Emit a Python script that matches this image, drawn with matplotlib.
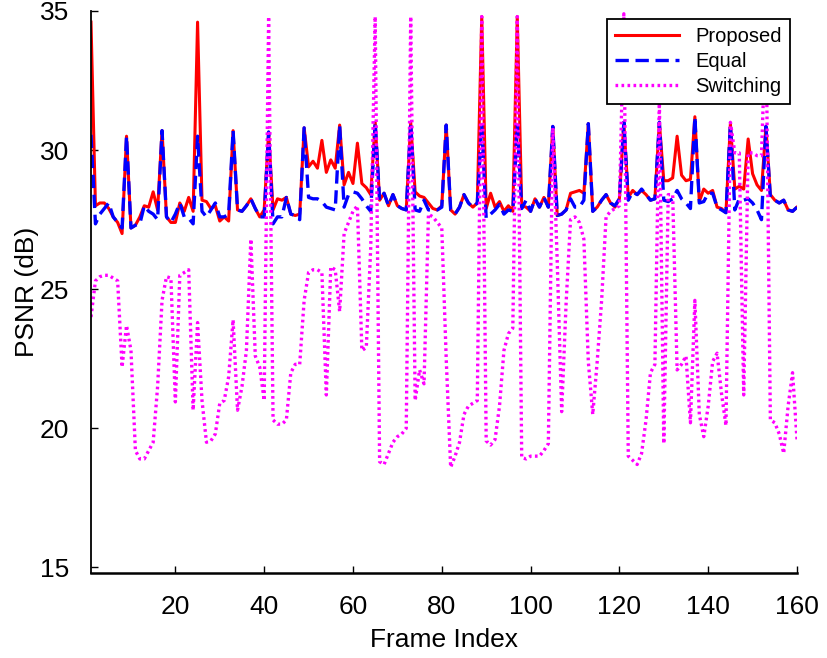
import numpy as np
import matplotlib
matplotlib.use("Agg")
import matplotlib.pyplot as plt
from matplotlib import font_manager

# frame index axis
frames = np.arange(1, 161)

# PSNR per frame (dB)
psnr_proposed = [
    34.6, 28.0, 28.1, 28.1, 27.9, 27.6, 27.4, 27.0, 30.5, 27.2,
    27.3, 27.6, 28.0, 27.95, 28.5, 27.85, 30.7, 27.6, 27.4, 27.4,
    28.1, 27.8, 28.3, 27.8, 34.6, 28.2, 28.15, 27.9, 28.0, 27.45,
    27.6, 27.45, 30.7, 27.85, 27.8, 28.0, 28.25, 27.9, 27.6, 27.85,
    30.65, 27.85, 28.25, 28.2, 28.3, 27.7, 27.65, 27.7, 30.8, 29.4,
    29.6, 29.35, 30.35, 29.2, 29.65, 29.35, 30.9, 28.75, 29.2, 28.8,
    30.25, 28.8, 28.65, 28.4, 31.0, 28.2, 28.45, 28.0, 28.4, 28.0,
    27.9, 27.85, 31.0, 28.5, 28.35, 28.3, 28.1, 27.9, 27.85, 28.0,
    30.9, 27.85, 27.7, 27.95, 28.4, 28.1, 27.95, 28.1, 34.8, 27.9,
    28.45, 27.95, 28.15, 27.8, 28.0, 27.8, 34.8, 28.0, 27.95, 27.8,
    28.25, 27.95, 28.3, 27.95, 30.85, 27.65, 27.7, 27.85, 28.45, 28.5,
    28.55, 28.45, 30.95, 27.8, 27.95, 28.2, 28.4, 28.1, 27.95, 28.25,
    31.0, 28.3, 28.55, 28.4, 28.55, 28.4, 28.2, 28.25, 31.0, 28.9,
    28.9, 29.0, 30.5, 29.1, 28.9, 28.95, 31.2, 28.15, 28.6, 28.45,
    28.55, 27.95, 27.9, 27.75, 30.95, 28.6, 28.7, 28.6, 30.4, 29.15,
    28.75, 28.55, 30.85, 28.4, 28.2, 28.1, 28.2, 27.85, 27.8, 27.95,
]

psnr_equal = [
    30.55, 27.35, 27.7, 27.9, 28.1, 27.6, 27.4, 27.2, 30.5, 27.2,
    27.3, 27.35, 28.0, 27.8, 27.7, 27.5, 30.7, 27.6, 27.4, 27.7,
    28.1, 27.6, 27.55, 27.35, 30.5, 27.8, 27.6, 27.85, 28.1, 27.6,
    27.6, 27.7, 30.7, 27.85, 27.8, 28.0, 28.25, 27.9, 27.6, 27.6,
    30.65, 27.35, 27.6, 27.6, 28.3, 27.7, 27.65, 27.5, 30.8, 28.3,
    28.25, 28.25, 28.15, 27.95, 27.9, 27.85, 30.9, 27.95, 28.4, 28.5,
    28.45, 28.25, 28.0, 27.8, 31.0, 28.2, 28.45, 28.0, 28.4, 28.0,
    27.9, 27.85, 31.0, 27.85, 27.8, 28.2, 27.85, 27.85, 27.85, 27.95,
    30.9, 27.85, 27.7, 27.95, 28.4, 28.1, 27.95, 28.1, 30.9, 27.55,
    27.7, 27.85, 28.05, 27.7, 27.85, 27.8, 30.9, 27.9, 28.2, 27.8,
    28.25, 27.95, 28.3, 27.95, 30.85, 27.65, 27.7, 27.85, 28.25, 27.95,
    27.95, 28.2, 30.95, 27.8, 27.95, 28.2, 28.4, 28.1, 28.0, 28.25,
    31.0, 28.2, 28.5, 28.4, 28.6, 28.4, 28.2, 28.25, 31.0, 28.2,
    28.15, 28.25, 28.55, 28.25, 28.1, 27.9, 31.2, 28.1, 28.15, 28.45,
    28.45, 27.95, 27.85, 27.75, 30.95, 27.85, 28.25, 28.2, 28.25, 28.1,
    27.85, 27.5, 30.85, 28.3, 28.2, 28.1, 28.2, 27.85, 27.8, 27.95,
]

psnr_switching = [
    24.0, 25.3, 25.45, 25.5, 25.5, 25.4, 25.3, 22.2, 23.7, 22.8,
    19.2, 18.9, 18.9, 19.2, 19.5, 21.5, 24.6, 25.45, 25.4, 20.95,
    25.5, 25.6, 25.7, 20.65, 23.8, 21.0, 19.5, 19.55, 19.8, 20.9,
    21.0, 21.85, 23.9, 20.65, 21.5, 22.8, 26.8, 22.6, 22.2, 21.0,
    34.8, 20.3, 20.15, 20.15, 20.3, 22.0, 22.3, 22.3, 24.6, 25.6,
    25.7, 25.7, 25.6, 21.2, 25.8, 25.7, 24.2, 27.0, 27.4, 27.8,
    28.0, 22.8, 22.9, 26.5, 34.8, 18.8, 18.7, 19.1, 19.5, 19.7,
    19.8, 20.0, 34.8, 21.0, 22.1, 21.6, 27.7, 27.6, 27.4, 27.2,
    22.5, 18.6, 19.0, 19.5, 20.5, 20.8, 20.9, 21.0, 34.8, 19.55,
    19.4, 19.6, 20.8, 22.8, 23.4, 23.6, 34.8, 18.95, 18.9, 19.0,
    19.0, 19.0, 19.2, 19.45, 30.8, 26.0, 20.6, 24.5, 27.5, 27.6,
    27.4, 26.8, 22.4, 20.5, 22.4, 24.6, 27.6, 27.8, 27.9, 28.0,
    34.9, 19.0, 18.85, 18.7, 19.1, 20.3, 22.0, 22.3, 31.8, 19.45,
    28.4, 28.4, 22.1, 22.3, 22.6, 20.2, 24.6, 20.5, 19.7, 20.8,
    22.4, 22.7, 21.25, 20.1, 31.0, 29.9, 29.9, 21.2, 29.9, 29.9,
    29.8, 29.8, 34.7, 20.3, 20.2, 19.8, 19.1, 20.8, 22.0, 19.6,
]

x_ticks = [20, 40, 60, 80, 100, 120, 140, 160]
y_ticks = [15, 20, 25, 30, 35]


def pick_font(preferred, fallback):
    names = {f.name for f in font_manager.fontManager.ttflist}
    return preferred if preferred in names else fallback


def plot_psnr(ax):
    ax.plot(frames, psnr_proposed, color='#ff0000', linewidth=2.2,
            linestyle='-', label='Proposed')
    ax.plot(frames, psnr_equal, color='#0000ff', linewidth=2.4,
            linestyle=(0, (4.0, 2.0)), label='Equal')
    ax.plot(frames, psnr_switching, color='#ff00ff', linewidth=2.4,
            linestyle=(0, (0.8, 1.0)), label='Switching')


def style_axes(ax, narrow):
    ax.set_xlim(1, 160)
    ax.set_ylim(14.8, 35.0)
    ax.set_xticks(x_ticks)
    ax.set_yticks(y_ticks)

    # box off, MATLAB-like inward ticks
    ax.spines['top'].set_visible(False)
    ax.spines['right'].set_visible(False)
    ax.spines['left'].set_linewidth(1.3)
    ax.spines['bottom'].set_linewidth(1.8)
    ax.tick_params(direction='in', length=5, width=1.0, pad=16)

    for lab in ax.get_xticklabels() + ax.get_yticklabels():
        lab.set_fontfamily(narrow)
        lab.set_fontsize(19)

    ax.set_xlabel('Frame Index', fontfamily=narrow, fontsize=19, labelpad=6)
    ax.set_ylabel('PSNR (dB)', fontfamily='Liberation Sans', fontsize=19,
                  labelpad=0)

    leg = ax.legend(loc='upper right', bbox_to_anchor=(790 / 828, 1 - 19 / 658),
                    bbox_transform=ax.figure.transFigure, borderaxespad=0,
                    fancybox=False, framealpha=1, edgecolor='black',
                    fontsize=14.5, handlelength=3.2, labelspacing=0.3,
                    borderpad=0.4, handletextpad=0.8)
    leg.get_frame().set_linewidth(1.3)


def run():
    plt.rcParams['font.family'] = ['Liberation Sans', 'DejaVu Sans']
    narrow = pick_font('Liberation Sans Narrow', 'Liberation Sans')

    fig = plt.figure(figsize=(8.28, 6.58), dpi=100)
    ax = fig.add_axes([91 / 828, 1 - 573 / 658, (797 - 91) / 828, (573 - 11) / 658])

    plot_psnr(ax)
    style_axes(ax, narrow)

    fig.savefig('out.png', dpi=100, facecolor='white')


if __name__ == "__main__":
    run()
